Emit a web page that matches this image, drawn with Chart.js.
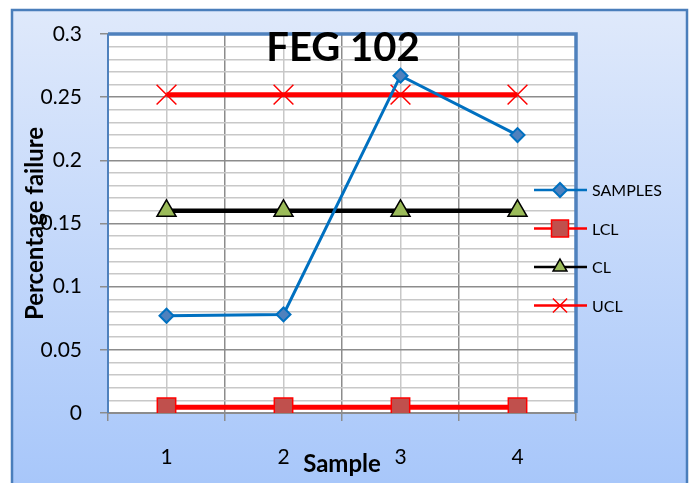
<!DOCTYPE html>
<html>
<head>
<meta charset="utf-8">
<script src="https://cdn.jsdelivr.net/npm/chart.js@4.4.1/dist/chart.umd.min.js"></script>
<style>
  html, body { margin: 0; padding: 0; background: #fff; }
  #wrap { width: 689px; height: 483px; position: relative; }
</style>
</head>
<body>
<div id="wrap"><canvas id="chart" width="689" height="483"></canvas></div>
<script>
// datos
const sampleLabels = ['1', '2', '3', '4'];
const samplesValues = [0.077, 0.078, 0.267, 0.220];
const lclValues = [0.0045, 0.0045, 0.0045, 0.0045];
const clValues = [0.160, 0.160, 0.160, 0.160];
const uclValues = [0.252, 0.252, 0.252, 0.252];
const chartTitle = 'FEG 102';
const yTitle = 'Percentage failure';
const xTitle = 'Sample';

const FONT = 'Lato, "Open Sans", sans-serif';

// fondo con degradado y marco azul
const backgroundPlugin = {
    id: 'backgroundPlugin',
    beforeDraw(chart) {
        const ctx = chart.ctx;
        const area = chart.chartArea;
        ctx.save();
        ctx.fillStyle = '#ffffff';
        ctx.fillRect(0, 0, chart.width, chart.height);
        const g = ctx.createLinearGradient(0, 10, 0, chart.height);
        g.addColorStop(0, '#dfe9fb');
        g.addColorStop(1, '#a8c7fa');
        ctx.fillStyle = g;
        ctx.fillRect(12, 10, 675, chart.height);
        ctx.strokeStyle = '#4a7ebb';
        ctx.lineWidth = 2.5;
        ctx.strokeRect(12, 10, 675, chart.height + 10);
        // área del gráfico
        ctx.fillStyle = '#ffffff';
        ctx.fillRect(area.left, area.top, area.right - area.left, area.bottom - area.top);
        ctx.restore();
    },
    beforeDatasetsDraw(chart) {
        // borde del área del gráfico
        const ctx = chart.ctx;
        const a = chart.chartArea;
        ctx.save();
        ctx.strokeStyle = '#4f81bd';
        ctx.lineWidth = 3.5;
        ctx.beginPath();
        ctx.moveTo(a.left, a.top);
        ctx.lineTo(a.right, a.top);
        ctx.lineTo(a.right, a.bottom);
        ctx.stroke();
        ctx.lineWidth = 2;
        ctx.beginPath();
        ctx.moveTo(a.left, a.bottom);
        ctx.lineTo(a.left, a.top);
        ctx.stroke();
        ctx.restore();
    }
};

// título y leyenda dibujados encima
const overlayPlugin = {
    id: 'overlayPlugin',
    afterDraw(chart) {
        const ctx = chart.ctx;
        ctx.save();
        ctx.fillStyle = '#000';
        ctx.font = 'bold 40px ' + FONT;
        ctx.textAlign = 'center';
        ctx.textBaseline = 'middle';
        ctx.fillText(chartTitle, 343, 48);

        // leyenda
        ctx.font = '16px ' + FONT;
        ctx.textAlign = 'left';
        chart.data.datasets.forEach((ds, i) => {
            const y = 190 + i * 38.5;
            ctx.strokeStyle = ds.borderColor;
            ctx.lineWidth = 2.5;
            ctx.beginPath();
            ctx.moveTo(534, y);
            ctx.lineTo(587, y);
            ctx.stroke();
            ctx.fillStyle = ds.pointBackgroundColor;
            ctx.strokeStyle = ds.pointBorderColor;
            ctx.lineWidth = ds.pointBorderWidth;
            Chart.helpers.drawPoint(ctx, {
                pointStyle: ds.pointStyle,
                radius: ds.legendRadius,
                borderWidth: ds.pointBorderWidth,
                rotation: 0
            }, 560, y);
            ctx.fillStyle = '#000';
            ctx.fillText(ds.label, 592, y + 1);
        });
        ctx.restore();
    }
};

const ctx = document.getElementById('chart').getContext('2d');
new Chart(ctx, {
    type: 'line',
    data: {
        labels: sampleLabels,
        datasets: [
            {
                label: 'SAMPLES',
                data: samplesValues,
                borderColor: '#0070c0',
                borderWidth: 3,
                pointStyle: 'rectRot',
                pointRadius: 7,
                legendRadius: 7,
                pointBackgroundColor: '#4f81bd',
                pointBorderColor: '#0070c0',
                pointBorderWidth: 2
            },
            {
                label: 'LCL',
                data: lclValues,
                borderColor: '#ff0000',
                borderWidth: 5,
                pointStyle: 'rect',
                pointRadius: 13,
                legendRadius: 12,
                pointBackgroundColor: '#c0504d',
                pointBorderColor: '#ff0000',
                pointBorderWidth: 1.5
            },
            {
                label: 'CL',
                data: clValues,
                borderColor: '#000000',
                borderWidth: 4.5,
                pointStyle: 'triangle',
                pointRadius: 11,
                legendRadius: 8,
                pointBackgroundColor: '#9bbb59',
                pointBorderColor: '#000000',
                pointBorderWidth: 1.5
            },
            {
                label: 'UCL',
                data: uclValues,
                borderColor: '#ff0000',
                borderWidth: 5,
                pointStyle: 'crossRot',
                pointRadius: 14,
                legendRadius: 10,
                pointBackgroundColor: '#ff0000',
                pointBorderColor: '#ff0000',
                pointBorderWidth: 1.5
            }
        ]
    },
    options: {
        responsive: false,
        animation: false,
        layout: { padding: { left: 0, top: 34, right: 113, bottom: 0 } },
        plugins: {
            legend: { display: false },
            title: { display: false },
            tooltip: { enabled: false }
        },
        scales: {
            x: {
                type: 'category',
                offset: true,
                grid: {
                    offset: true,
                    color: '#8c8c8c',
                    lineWidth: 1.5,
                    tickLength: 8,
                    tickColor: '#8c8c8c'
                },
                border: { display: true, color: '#8c8c8c', width: 2 },
                ticks: {
                    color: '#000',
                    font: { family: FONT, size: 21 },
                    padding: 24
                },
                title: {
                    display: true,
                    text: xTitle,
                    color: '#000',
                    font: { family: FONT, size: 24, weight: 'bold' },
                    padding: { top: 0, bottom: 4 }
                },
                afterFit(scale) { scale.height = 70; }
            },
            x2: {
                type: 'category',
                offset: true,
                position: 'bottom',
                display: true,
                grid: {
                    offset: false,
                    color: '#c8c8c8',
                    lineWidth: 1.5,
                    drawTicks: false
                },
                border: { display: false },
                ticks: { display: false },
                afterFit(scale) { scale.height = 0; }
            },
            y: {
                min: 0,
                max: 0.3,
                ticks: {
                    stepSize: 0.01,
                    autoSkip: false,
                    color: '#000',
                    font: { family: FONT, size: 21 },
                    padding: 18,
                    callback(v) {
                        const h = Math.round(v * 100);
                        if (h % 5 !== 0) return '';
                        return String(h / 100);
                    }
                },
                grid: {
                    color(c) {
                        const h = Math.round(c.tick.value * 100);
                        return h % 5 === 0 ? '#8c8c8c' : '#c8c8c8';
                    },
                    lineWidth: 1.5,
                    tickLength: 8,
                    tickColor(c) {
                        const h = Math.round(c.tick.value * 100);
                        return h % 5 === 0 ? '#8c8c8c' : 'rgba(0,0,0,0)';
                    }
                },
                border: { display: true, color: '#8c8c8c', width: 2 },
                title: {
                    display: true,
                    text: yTitle,
                    color: '#000',
                    font: { family: FONT, size: 24, weight: 'bold' },
                    padding: { top: 21, bottom: 0 }
                },
                afterFit(scale) { scale.width = 108; }
            }
        }
    },
    plugins: [backgroundPlugin, overlayPlugin]
});
</script>
</body>
</html>
